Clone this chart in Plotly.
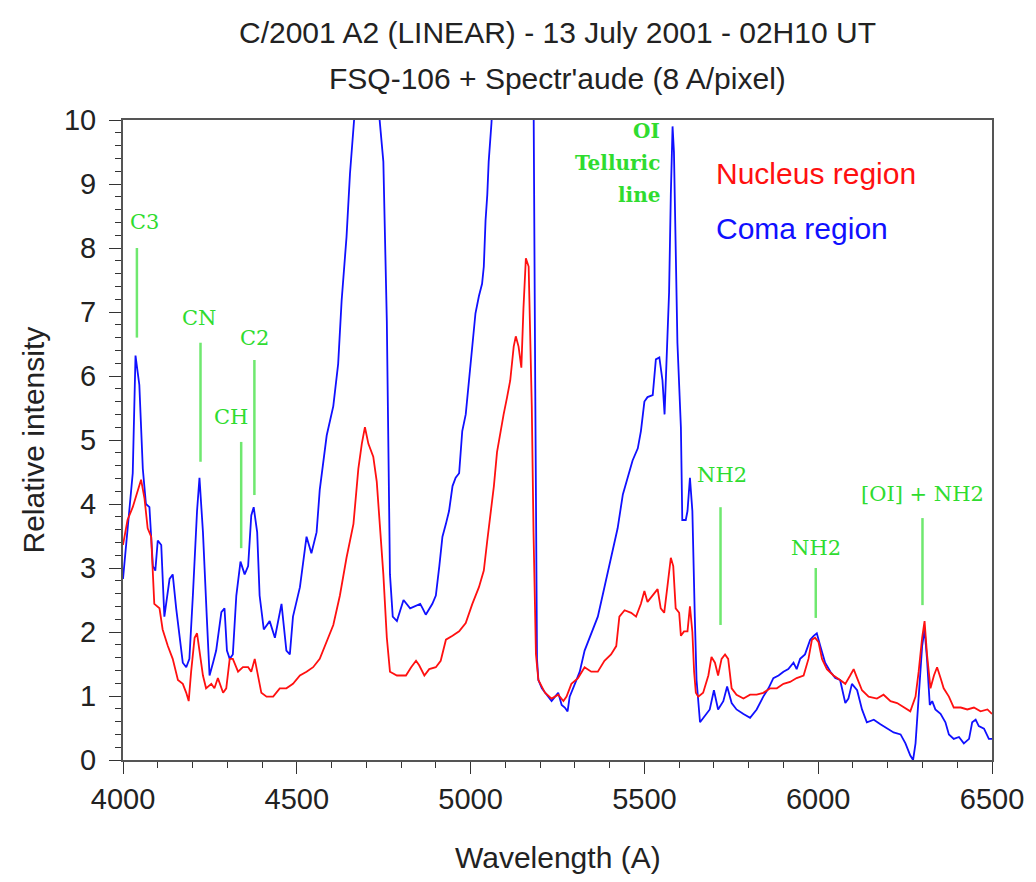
import plotly.graph_objects as go

# ---- data ----
coma_wl = [4000, 4013, 4028, 4036, 4047, 4057, 4066, 4076, 4086, 4093, 4100, 4110, 4119, 4134, 4143, 4153,
           4172, 4182, 4191, 4201, 4213, 4220, 4230, 4241, 4249, 4259, 4268, 4283, 4292, 4299, 4307, 4316,
           4326, 4338, 4350, 4360, 4369, 4376, 4386, 4393, 4405, 4422, 4437, 4456, 4470, 4480, 4489, 4509,
           4528, 4542, 4557, 4566, 4586, 4605, 4619, 4629, 4643, 4653, 4663, 4680, 4700, 4720, 4735, 4749,
           4759, 4768, 4776, 4788, 4807, 4826, 4855, 4862, 4871, 4890, 4900, 4910, 4919, 4929, 4938, 4948,
           4957, 4967, 4976, 4986, 4995, 5005, 5014, 5024, 5033, 5038, 5043, 5048, 5052, 5060, 5080, 5120,
           5160, 5175, 5181, 5186, 5189, 5191, 5195, 5205, 5219, 5233, 5243, 5252, 5262, 5271, 5279, 5285,
           5300, 5314, 5328, 5347, 5366, 5385, 5404, 5423, 5438, 5452, 5466, 5481, 5490, 5500, 5509, 5524,
           5533, 5543, 5552, 5558, 5564, 5571, 5576, 5581, 5585, 5590, 5595, 5605, 5609, 5619, 5624, 5631,
           5638, 5645, 5650, 5660, 5674, 5688, 5700, 5712, 5727, 5738, 5751, 5765, 5785, 5804, 5823, 5842,
           5857, 5871, 5886, 5900, 5914, 5929, 5938, 5948, 5962, 5977, 5987, 5996, 6006, 6020, 6035, 6049,
           6063, 6078, 6087, 6097, 6112, 6126, 6140, 6160, 6179, 6198, 6217, 6237, 6251, 6265, 6273, 6280,
           6289, 6299, 6306, 6313, 6321, 6328, 6337, 6352, 6366, 6376, 6390, 6405, 6419, 6434, 6443, 6453,
           6462, 6477, 6491, 6500]
coma_int = [2.83, 3.56, 4.48, 6.32, 5.86, 4.55, 4.0, 3.95, 3.03, 2.96, 3.43, 3.36, 2.24, 2.83, 2.9, 2.37,
            1.52, 1.45, 1.58, 2.57, 3.89, 4.41, 3.56, 2.24, 1.32, 1.52, 1.71, 2.31, 2.37, 1.71, 1.58, 1.65,
            2.57, 3.1, 2.9, 3.03, 3.82, 3.95, 3.56, 2.57, 2.04, 2.17, 1.91, 2.44, 1.71, 1.65, 2.24, 2.7,
            3.49, 3.23, 3.56, 4.22, 5.07, 5.53, 6.19, 7.18, 8.17, 9.16, 9.95, 11.5, 12.5, 11.5, 10.2, 9.35,
            6.85, 2.9, 2.24, 2.17, 2.5, 2.37, 2.44, 2.37, 2.27, 2.44, 2.57, 3.03, 3.49, 3.69, 3.89, 4.28,
            4.41, 4.48, 5.14, 5.4, 5.93, 6.46, 6.98, 7.25, 7.44, 7.71, 8.43, 8.83, 9.35, 9.95, 12.0, 16.0,
            20.0, 14.0, 10.5, 5.8, 2.44, 1.58, 1.25, 1.12, 1.02, 0.92, 0.99, 1.05, 0.86, 0.82, 0.76, 0.99,
            1.19, 1.38, 1.71, 1.98, 2.24, 2.7, 3.16, 3.62, 4.15, 4.41, 4.68, 4.87, 5.14, 5.6, 5.67, 5.7,
            6.26, 6.29, 5.93, 5.4, 6.19, 7.31, 8.83, 9.9, 9.5, 7.84, 6.52, 5.2, 3.75, 3.75, 3.89, 4.41,
            3.89, 2.24, 1.25, 0.59, 0.69, 0.79, 1.09, 0.79, 0.92, 1.15, 0.89, 0.79, 0.72, 0.66, 0.79, 0.99,
            1.12, 1.28, 1.32, 1.38, 1.42, 1.52, 1.42, 1.58, 1.65, 1.88, 1.94, 1.98, 1.78, 1.52, 1.38, 1.28,
            1.25, 0.89, 0.96, 1.19, 1.09, 0.79, 0.59, 0.63, 0.56, 0.49, 0.43, 0.4, 0.26, 0.07, 0.0, 0.26,
            0.99, 1.78, 2.04, 1.58, 0.86, 0.92, 0.79, 0.72, 0.59, 0.4, 0.33, 0.36, 0.26, 0.33, 0.59, 0.63,
            0.53, 0.49, 0.33, 0.33]

nucleus_wl = [4000, 4013, 4028, 4042, 4052, 4062, 4071, 4081, 4090, 4105, 4114, 4129, 4143, 4158, 4172, 4182,
              4189, 4196, 4206, 4213, 4220, 4230, 4239, 4254, 4263, 4273, 4288, 4297, 4307, 4316, 4331, 4345,
              4360, 4369, 4379, 4388, 4398, 4413, 4432, 4451, 4470, 4489, 4509, 4528, 4547, 4566, 4586, 4605,
              4624, 4643, 4663, 4677, 4687, 4696, 4706, 4720, 4730, 4739, 4749, 4759, 4768, 4788, 4814, 4829,
              4843, 4852, 4867, 4881, 4900, 4914, 4929, 4948, 4967, 4986, 5005, 5024, 5038, 5048, 5057, 5067,
              5076, 5086, 5095, 5105, 5114, 5124, 5130, 5138, 5146, 5152, 5159, 5167, 5171, 5176, 5181, 5184,
              5188, 5195, 5214, 5233, 5252, 5267, 5276, 5290, 5309, 5328, 5347, 5366, 5385, 5404, 5419, 5428,
              5443, 5462, 5476, 5490, 5500, 5509, 5524, 5538, 5547, 5557, 5566, 5576, 5583, 5590, 5600, 5605,
              5614, 5624, 5631, 5638, 5643, 5648, 5655, 5669, 5684, 5693, 5703, 5712, 5722, 5732, 5741, 5751,
              5765, 5785, 5804, 5823, 5842, 5862, 5881, 5900, 5919, 5938, 5958, 5972, 5982, 5991, 6001, 6011,
              6025, 6044, 6063, 6078, 6092, 6102, 6112, 6126, 6145, 6169, 6188, 6208, 6227, 6246, 6265, 6280,
              6289, 6299, 6306, 6313, 6323, 6333, 6342, 6352, 6361, 6376, 6390, 6410, 6429, 6448, 6467, 6487,
              6500]
nucleus_int = [3.36, 3.75, 3.95, 4.22, 4.38, 4.08, 3.62, 3.49, 2.44, 2.37, 2.04, 1.78, 1.58, 1.25, 1.19, 1.05,
               0.92, 1.38, 1.91, 1.98, 1.71, 1.32, 1.12, 1.19, 1.12, 1.28, 1.05, 1.12, 1.58, 1.58, 1.38, 1.45,
               1.45, 1.38, 1.58, 1.32, 1.05, 0.99, 0.99, 1.12, 1.12, 1.19, 1.32, 1.38, 1.45, 1.58, 1.84, 2.11,
               2.57, 3.16, 3.69, 4.55, 4.94, 5.2, 4.94, 4.74, 4.35, 3.62, 2.9, 1.91, 1.38, 1.32, 1.32, 1.45,
               1.55, 1.48, 1.32, 1.42, 1.45, 1.55, 1.88, 1.94, 2.01, 2.14, 2.44, 2.7, 2.96, 3.43, 3.82, 4.28,
               4.81, 5.14, 5.4, 5.67, 5.93, 6.46, 6.62, 6.46, 6.13, 7.05, 7.84, 7.71, 6.72, 5.53, 3.56, 2.44,
               1.65, 1.25, 1.05, 0.96, 1.02, 0.92, 0.99, 1.19, 1.28, 1.45, 1.38, 1.38, 1.55, 1.65, 1.78, 2.24,
               2.34, 2.3, 2.24, 2.44, 2.64, 2.47, 2.57, 2.67, 2.37, 2.3, 2.7, 3.16, 3.03, 2.37, 2.3, 1.94,
               2.01, 2.01, 2.4, 2.0, 1.38, 1.05, 0.99, 1.05, 1.32, 1.61, 1.52, 1.32, 1.58, 1.65, 1.58, 1.12,
               1.02, 0.96, 1.02, 1.02, 1.05, 1.12, 1.12, 1.19, 1.22, 1.28, 1.32, 1.58, 1.88, 1.91, 1.84, 1.58,
               1.42, 1.32, 1.25, 1.19, 1.32, 1.42, 1.28, 1.09, 0.99, 0.96, 1.02, 0.92, 0.89, 0.82, 0.76, 0.99,
               1.38, 1.91, 2.17, 1.65, 1.12, 1.32, 1.45, 1.28, 1.12, 0.99, 0.82, 0.82, 0.79, 0.82, 0.76, 0.79,
               0.72]

# emission line labels: (text, line wavelength, line bottom, line top, label x, label y)
line_names = ["C3", "CN", "CH", "C2", "NH2", "NH2", "[OI] + NH2"]
line_wl = [4040, 4223, 4340, 4378, 5719, 5993, 6300]
line_lo = [6.6, 4.66, 3.31, 4.14, 2.11, 2.22, 2.42]
line_hi = [8.0, 6.52, 4.97, 6.25, 3.95, 3.0, 3.78]
label_x = [4063, 4220, 4312, 4378, 5722, 5993, 6300]
label_y = [8.4, 6.9, 5.36, 6.6, 4.45, 3.31, 4.16]

x_ticks = [4000, 4500, 5000, 5500, 6000, 6500]
y_ticks = list(range(0, 11))

GREEN_TXT = "#2fdc2f"
GREEN_LINE = "#6fe86f"
SANS = "Liberation Sans, Arial, sans-serif"
SERIF = "DejaVu Serif, serif"

fig = go.Figure()
fig.add_trace(go.Scatter(x=coma_wl, y=coma_int, mode="lines",
                         line=dict(color="#1010ff", width=1.8), showlegend=False))
fig.add_trace(go.Scatter(x=nucleus_wl, y=nucleus_int, mode="lines",
                         line=dict(color="#ff1010", width=1.8), showlegend=False))

for i, name in enumerate(line_names):
    fig.add_shape(type="line", xref="x", yref="y", x0=line_wl[i], x1=line_wl[i],
                  y0=line_lo[i], y1=line_hi[i], line=dict(color=GREEN_LINE, width=2.5))
    fig.add_annotation(x=label_x[i], y=label_y[i], xref="x", yref="y", text=name,
                       showarrow=False, font=dict(family=SERIF, size=21, color=GREEN_TXT))

for txt, yy in [("<b>OI</b>", 9.83), ("<b>Telluric</b>", 9.33), ("<b>line</b>", 8.83)]:
    fig.add_annotation(x=5552, y=yy, xref="x", yref="y", text=txt, xanchor="right",
                       showarrow=False, font=dict(family=SERIF, size=20, color=GREEN_TXT))

fig.add_annotation(x=5699, y=9.17, xref="x", yref="y", text="Nucleus region", xanchor="left",
                   showarrow=False, font=dict(family=SANS, size=30, color="#ff1010"))
fig.add_annotation(x=5699, y=8.31, xref="x", yref="y", text="Coma region", xanchor="left",
                   showarrow=False, font=dict(family=SANS, size=30, color="#1010ff"))

fig.add_annotation(x=0.5, y=1.136, xref="paper", yref="paper", showarrow=False,
                   xanchor="center", yanchor="middle",
                   text="C/2001 A2 (LINEAR) - 13 July 2001 - 02H10 UT",
                   font=dict(family=SANS, size=30, color="#222"))
fig.add_annotation(x=0.5, y=1.0656, xref="paper", yref="paper", showarrow=False,
                   xanchor="center", yanchor="middle",
                   text="FSQ-106 + Spectr'aude (8 A/pixel)",
                   font=dict(family=SANS, size=30, color="#222"))
fig.add_annotation(x=-0.103, y=0.5, xref="paper", yref="paper", showarrow=False,
                   xanchor="center", yanchor="middle",
                   text="Relative intensity", textangle=-90,
                   font=dict(family=SANS, size=30, color="#222"))
fig.add_annotation(x=0.5, y=-0.153, xref="paper", yref="paper", showarrow=False,
                   xanchor="center", yanchor="middle",
                   text="Wavelength (A)", font=dict(family=SANS, size=30, color="#222"))

fig.update_layout(
    width=1036, height=882,
    margin=dict(l=123, r=39, t=120, b=122),
    paper_bgcolor="white", plot_bgcolor="white",
    showlegend=False,
)
fig.update_xaxes(range=[4000, 6500], tickvals=x_ticks, ticks="outside", ticklen=12,
                 tickcolor="#333", showgrid=False, zeroline=False,
                 showline=True, linecolor="#555", linewidth=2, mirror=True,
                 ticklabelstandoff=0,
                 tickfont=dict(family=SANS, size=29, color="#222"),
                 minor=dict(dtick=100, ticks="outside", ticklen=6, tickcolor="#333"))
fig.update_yaxes(range=[0, 10], tickvals=y_ticks, ticks="outside", ticklen=12,
                 tickcolor="#333", showgrid=False, zeroline=False,
                 showline=True, linecolor="#555", linewidth=2, mirror=True,
                 ticklabelstandoff=7,
                 tickfont=dict(family=SANS, size=29, color="#222"),
                 minor=dict(dtick=0.2, ticks="outside", ticklen=6, tickcolor="#333"))

fig.write_html("out.html")
